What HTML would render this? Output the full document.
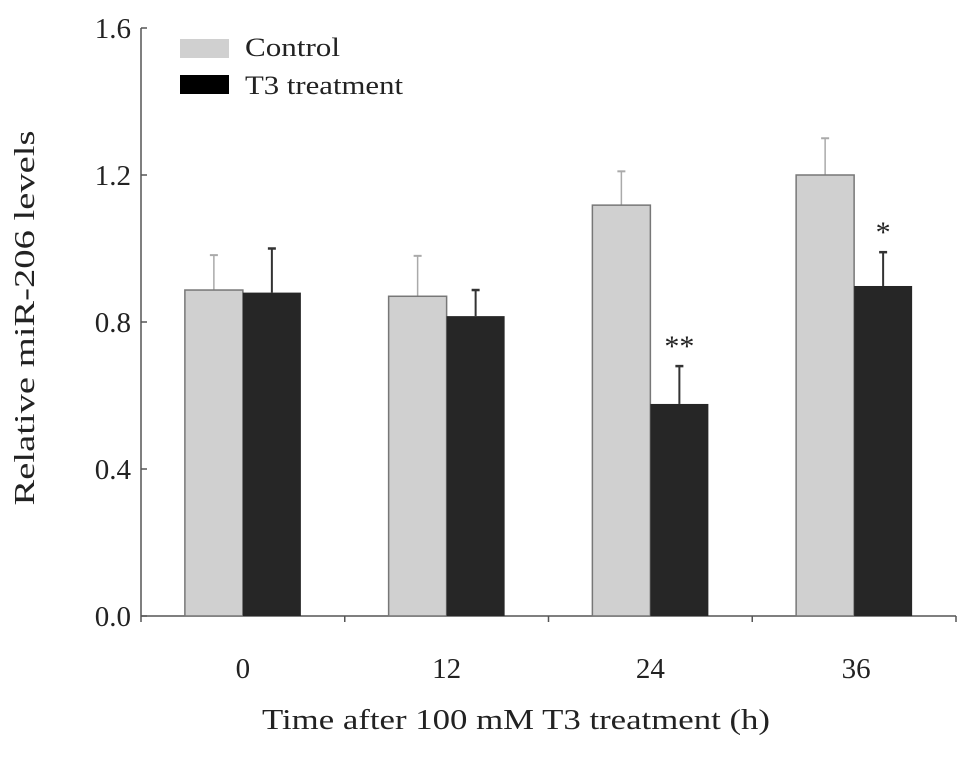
<!DOCTYPE html>
<html><head><meta charset="utf-8"><style>
body{margin:0;background:#fff}
svg text{font-family:"Liberation Serif",serif;fill:#222}
</style></head><body>
<svg id="chart" width="969" height="752" viewBox="0 0 969 752" xmlns="http://www.w3.org/2000/svg">
<g id="axes"></g><g id="bars"></g>
<g>
<rect x="180" y="39" width="49" height="19" fill="#d0d0d0"/>
<text x="245" y="56" font-size="26" textLength="95" lengthAdjust="spacingAndGlyphs">Control</text>
<rect x="180" y="75" width="49" height="19" fill="#000"/>
<text x="245" y="94" font-size="26" textLength="158" lengthAdjust="spacingAndGlyphs">T3 treatment</text>
</g>
<text transform="translate(34,318) rotate(-90)" text-anchor="middle" font-size="29" textLength="375" lengthAdjust="spacingAndGlyphs">Relative miR-206 levels</text>
<text x="516" y="729" text-anchor="middle" font-size="29" textLength="508" lengthAdjust="spacingAndGlyphs">Time after 100 mM T3 treatment  (h)</text>
</svg>
<script>
const categories=["0","12","24","36"];
const controlVals=[0.887,0.87,1.118,1.2];
const controlErr=[0.095,0.11,0.092,0.10];
const t3Vals=[0.88,0.816,0.577,0.898];
const t3Err=[0.12,0.071,0.103,0.092];
const sigMarks=["","","**","*"];
const yTicks=[0,0.4,0.8,1.2,1.6];
const yTickLabels=["0.0","0.4","0.8","1.2","1.6"];
const NS="http://www.w3.org/2000/svg";
const x0=141,x1=956,yBase=616,yTop=28;
const y=v=>yBase-v/1.6*(yBase-yTop);
const band=(x1-x0)/categories.length;
const xc=i=>x0+band*(i+0.5);
function mk(tag,attrs,parent){const e=document.createElementNS(NS,tag);for(const k in attrs)e.setAttribute(k,attrs[k]);parent.appendChild(e);return e;}
const ax=document.getElementById('axes'),bg=document.getElementById('bars');
let l=mk('line',{x1:x0,y1:yTop,x2:x0,y2:yBase,stroke:'#555','stroke-width':1.5},ax);


l=mk('line',{x1:x0,y1:yBase,x2:x1,y2:yBase,stroke:'#555','stroke-width':1.5},ax);


yTicks.forEach((t,i)=>{
 const tk=mk('line',{x1:x0,y1:y(t),x2:x0+6,y2:y(t),stroke:'#555','stroke-width':1.5},ax);
 
 
 const tx=mk('text',{x:x0-10,y:y(t)+10,'text-anchor':'end','font-size':29},ax);
 tx.textContent=yTickLabels[i];
 
 
});
for(let i=0;i<=categories.length;i++){
 const tk=mk('line',{x1:x0+band*i,y1:yBase,x2:x0+band*i,y2:yBase+6,stroke:'#555','stroke-width':1.5},ax);
 
 
}
const bw=58;
categories.forEach((c,i)=>{
 const cx=xc(i);
 const tx=mk('text',{x:cx+(i==3?2:0),y:678,'text-anchor':'middle','font-size':29},ax);
 tx.textContent=c;
 
 
 const ex1=mk('line',{x1:cx-bw/2,y1:y(controlVals[i]+controlErr[i]),x2:cx-bw/2,y2:y(controlVals[i]),stroke:'#aaa','stroke-width':1.5},bg);
 
 
 const ec1=mk('line',{x1:cx-bw/2-4,y1:y(controlVals[i]+controlErr[i]),x2:cx-bw/2+4,y2:y(controlVals[i]+controlErr[i]),stroke:'#aaa','stroke-width':2},bg);
 
 
 const r1=mk('rect',{x:cx-bw,y:y(controlVals[i]),width:bw,height:yBase-y(controlVals[i]),fill:'#d0d0d0',stroke:'#777','stroke-width':1.5},bg);
 
 
 const ex2=mk('line',{x1:cx+bw/2,y1:y(t3Vals[i]+t3Err[i]),x2:cx+bw/2,y2:y(t3Vals[i]),stroke:'#333','stroke-width':2},bg);
 
 
 const ec2=mk('line',{x1:cx+bw/2-4,y1:y(t3Vals[i]+t3Err[i]),x2:cx+bw/2+4,y2:y(t3Vals[i]+t3Err[i]),stroke:'#333','stroke-width':2.5},bg);
 
 
 const r2=mk('rect',{x:cx,y:y(t3Vals[i]),width:bw,height:yBase-y(t3Vals[i]),fill:'#262626'},bg);
 
 
 if(sigMarks[i]){
  const s=mk('text',{x:cx+bw/2,y:y(t3Vals[i]+t3Err[i])-10,'text-anchor':'middle','font-size':30},bg);
  s.textContent=sigMarks[i];
  
  
 }
});
</script>
</body></html>
